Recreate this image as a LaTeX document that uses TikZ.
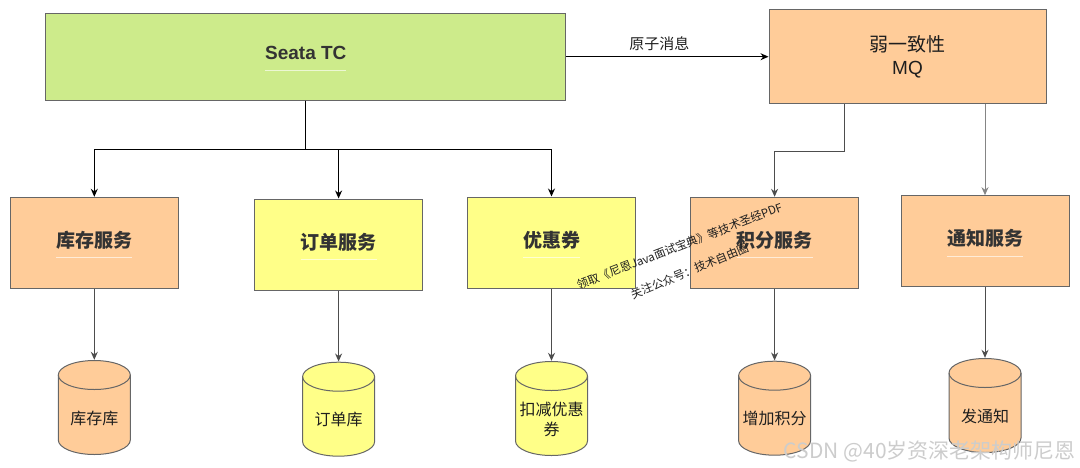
\documentclass[tikz,border=0pt]{standalone}
\usepackage{fontspec}
\setmainfont{Liberation Sans}
\newfontfamily\cjk{Noto Sans CJK SC}
\usetikzlibrary{arrows.meta}
\definecolor{Lime}{HTML}{CDEB8B}
\definecolor{Peach}{HTML}{FFCC99}
\definecolor{Lemon}{HTML}{FFFF88}
\definecolor{Edge}{HTML}{666666}
\definecolor{Ink}{HTML}{333333}
\definecolor{Wire}{HTML}{4D4D4D}
\definecolor{Mark}{HTML}{1E1E1E}
\newcommand\tline[1]{\setbox0=\hbox{#1}\rlap{\smash{\color{ulc}\rule[-11pt]{\wd0}{1.2pt}}}\box0\vrule width 0pt depth 7pt}
\tikzset{
  titled/.style={
    rectangle, draw=Edge, line width=1pt, fill=#1, inner sep=0pt,
    text=Ink, align=center, execute at begin node={\colorlet{ulc}{white!62!#1}}
  },
  broker/.style={
    rectangle, draw=Edge, line width=1pt, fill=Peach, inner sep=0pt,
    minimum width=277, minimum height=94, align=center, text=Mark,
    font=\fontsize{19}{23}\selectfont
  },
  service/.style={
    titled=#1, minimum width=168, minimum height=91,
    font=\cjk\bfseries\fontsize{19}{23}\selectfont
  },
  store/.style={
    rectangle, fill=white, minimum width=73, minimum height=116, inner sep=0pt,
    text width=70, align=center, text=Mark, font=\cjk\fontsize{16}{20}\selectfont,
    path picture={
      \path[fill=#1, draw=Edge, line width=1pt]
        ([shift={(0.5,15)}]path picture bounding box.north west) -- ++(0,65)
        arc[start angle=180, end angle=0, x radius=36, y radius=14.5] -- ++(0,-65)
        arc[start angle=0, end angle=-180, x radius=36, y radius=14.5] -- cycle;
      \draw[Edge, line width=1pt]
        ([shift={(0.5,15)}]path picture bounding box.north west)
        arc[start angle=180, end angle=0, x radius=36, y radius=14.5];
    }
  },
  flow/.style={-{Stealth[length=8pt,width=7pt]}, line width=1pt, draw=black},
  softflow/.style={flow, draw=Wire}
}

\begin{document}
\begin{tikzpicture}[x=1pt,y=-1pt]
    \useasboundingbox (0,0) rectangle (1080,467);
    % top row
    \node[titled=Lime, minimum width=520, minimum height=87,
      font=\bfseries\fontsize{19}{23}\selectfont] (tc) at (305.8,56.7) {\tline{Seata TC}};
    \node[broker] (mq) at (907.5,56.7) {{\cjk 弱一致性}\\MQ};
    % services
    \node[service=Peach] (kc) at (94.3,242.8) {\tline{库存服务}};
    \node[service=Lemon] (dd) at (338.6,244.5) {\tline{订单服务}};
    \node[service=Lemon] (yh) at (551.5,242.5) {\tline{优惠券}};
    \node[service=Peach] (jf) at (774.6,242.8) {\tline{积分服务}};
    \node[service=Peach] (tz) at (985,241.2) {\tline{通知服务}};
    % databases
    \node[store=Peach] (kcdb) at (94.3,418) {库存库};
    \node[store=Lemon] (dddb) at (338.6,419.7) {订单库};
    \node[store=Lemon] (yhdb) at (551.5,419) {扣减优惠\\券};
    \node[store=Peach] (jfdb) at (774.6,418.7) {增加积分};
    \node[store=Peach] (tzdb) at (985,416) {发通知};
    % connectors
    \draw[flow] (tc.east) -- node[above=2pt, xshift=-8pt, text=Mark,
      font=\cjk\fontsize{15}{18}\selectfont] (msg) {原子消息} (mq.west);
    \draw[flow] (tc.south) -- ++(0,49) -| (kc.north);
    \draw[flow] (tc.south) -- ++(0,49) -| (dd.north);
    \draw[flow] (tc.south) -- ++(0,49) -| (yh.north);
    \draw[softflow] ([xshift=-63pt]mq.south) -- ++(0,47) -| (jf.north);
    \draw[softflow, draw=Edge!80] (mq.south -| tz.north) -- (tz.north);
    \draw[softflow] (kc) -- (kcdb);
    \draw[softflow] (dd) -- (dddb);
    \draw[softflow] (yh) -- (yhdb);
    \draw[softflow] (jf) -- (jfdb);
    \draw[softflow] (tz) -- (tzdb);
    % watermarks
    \node[rotate=21, text=Mark, inner sep=0pt, font=\cjk\fontsize{11.5}{14}\selectfont]
      (wm1) at (679.5,246) {领取《尼恩Java面试宝典》等技术圣经PDF};
    \node[rotate=22.5, text=Mark, inner sep=0pt, font=\cjk\fontsize{11.5}{14}\selectfont]
      (wm2) at (689.5,271) {关注公众号：技术自由圈};
    \node[anchor=east, text=black!20, inner sep=0pt, font=\cjk\fontsize{21}{24}\selectfont]
      (csdn) at (1076,451) {CSDN @40岁资深老架构师尼恩};
\end{tikzpicture}
\end{document}
